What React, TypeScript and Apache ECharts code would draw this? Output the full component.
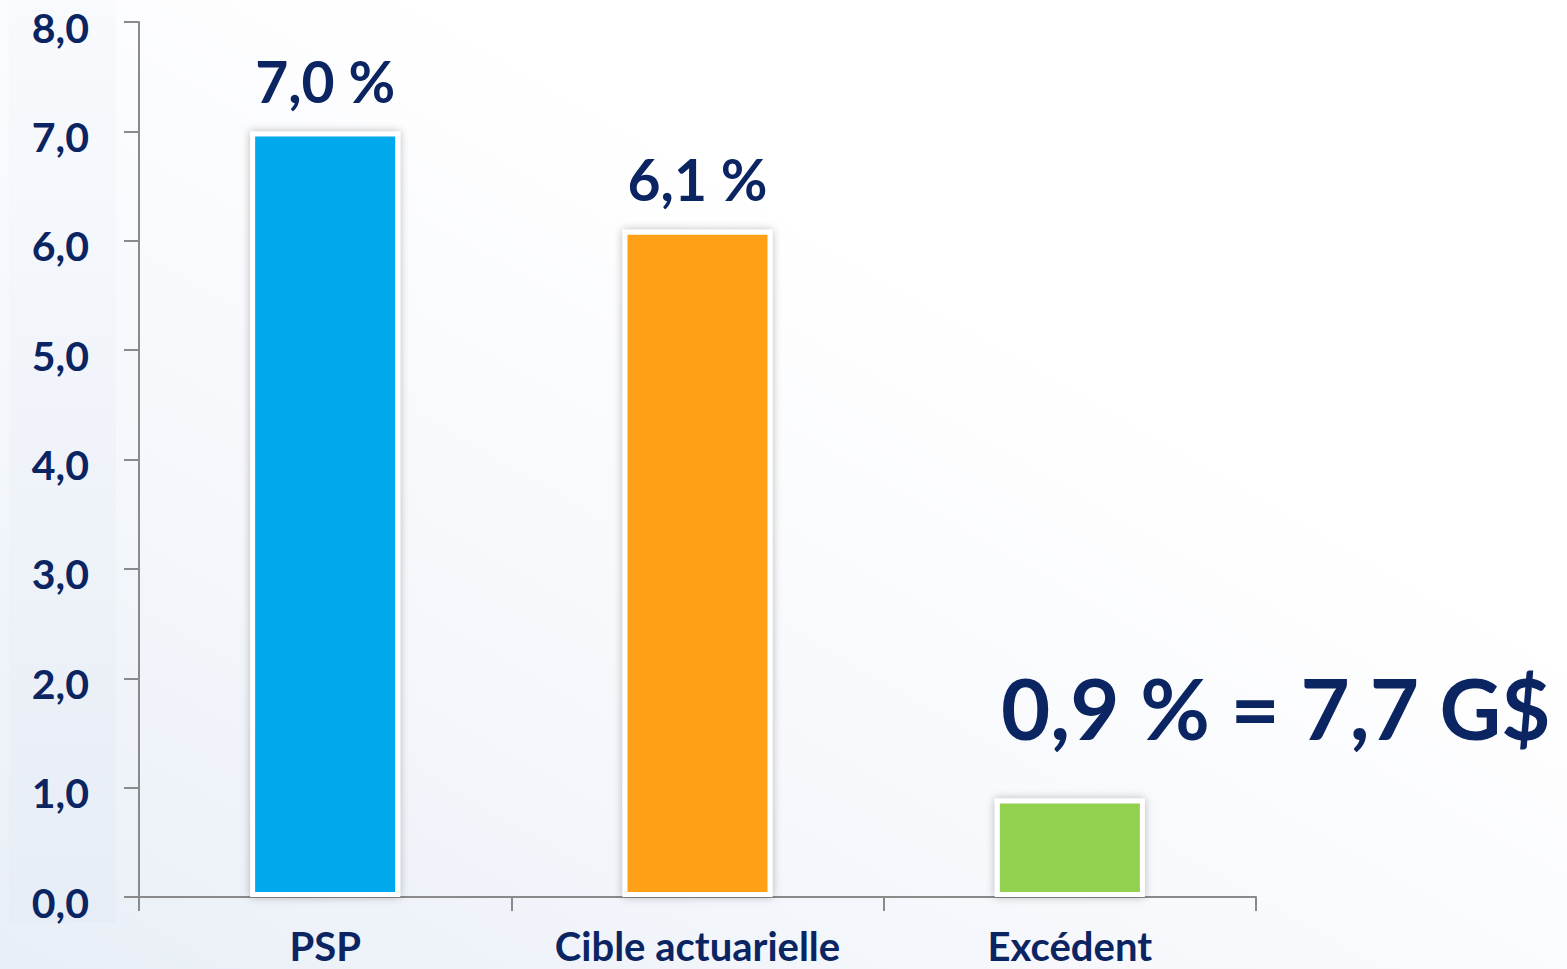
import React, { useEffect, useRef } from "react";
import * as echarts from "echarts";

const categories = ["PSP", "Cible actuarielle", "Excédent"];
const values = [7.0, 6.1, 0.9];
const barColors = ["#00a8ec", "#ffa015", "#92d050"];
const surplusText = "= 7,7 G$";
const yTicks = { min: 0, max: 8, interval: 1 };

const NAVY = "#0b2462";
const FONT = "Lato, 'Open Sans', sans-serif";
const WEIGHT = "bold";

const fmt = (v: number) => v.toFixed(1).replace(".", ",");

export default function App() {
  const ref = useRef<HTMLDivElement>(null);
  useEffect(() => {
    if (!ref.current) return;
    const chart = echarts.init(ref.current, undefined, { renderer: "svg" });
    chart.setOption({
      animation: false,
      backgroundColor: "transparent",
      graphic: [
        {
          type: "rect",
          left: 9,
          top: 0,
          shape: { width: 107, height: 923 },
          z: -10,
          style: {
            fill: new echarts.graphic.LinearGradient(0, 0, 0, 1, [
              { offset: 0, color: "#f8fafd" },
              { offset: 1, color: "#e7edf6" },
            ]),
          },
        },
      ],
      grid: {
        left: 139,
        right: 311,
        top: 22,
        bottom: 72,
        containLabel: false,
        outerBoundsMode: "none",
      },
      xAxis: {
        type: "category",
        data: categories,
        axisLine: { lineStyle: { color: "#8a8a8a", width: 2 } },
        axisTick: { show: true, length: 14, lineStyle: { color: "#8a8a8a", width: 2 } },
        axisLabel: {
          interval: 0,
          color: NAVY,
          fontFamily: FONT,
          fontWeight: WEIGHT,
          fontSize: 40,
          lineHeight: 36,
          margin: 31,
        },
      },
      yAxis: {
        type: "value",
        min: yTicks.min,
        max: yTicks.max,
        interval: yTicks.interval,
        splitLine: { show: false },
        axisLine: { show: true, lineStyle: { color: "#8a8a8a", width: 2 } },
        axisTick: { show: true, length: 15, lineStyle: { color: "#8a8a8a", width: 2 } },
        axisLabel: {
          color: NAVY,
          fontFamily: FONT,
          fontWeight: WEIGHT,
          fontSize: 41,
          lineHeight: 10,
          verticalAlign: "top",
          margin: 50,
          formatter: (v: number) => fmt(v),
        },
      },
      series: [
        {
          type: "bar",
          barWidth: "40.3%",
          data: values.map((v, i) => ({
            value: v,
            itemStyle: { color: barColors[i] },
            label:
              i === 2
                ? {
                    show: true,
                    position: "top",
                    formatter: (p: any) => `${fmt(p.value)} % ${surplusText}`,
                    fontSize: 85,
                    offset: [206, -27],
                  }
                : undefined,
          })),
          itemStyle: {
            borderColor: "#ffffff",
            borderWidth: 5,
            shadowBlur: 8,
            shadowColor: "rgba(0,0,0,0.28)",
          },
          label: {
            show: true,
            position: "top",
            distance: 22,
            color: NAVY,
            fontFamily: FONT,
            fontWeight: WEIGHT,
            fontSize: 57,
            formatter: (p: any) => `${fmt(p.value)} %`,
          },
        },
      ],
    });
    return () => chart.dispose();
  }, []);
  return (
    <div
      style={{
        position: "fixed",
        left: 0,
        top: 0,
        width: 1567,
        height: 969,
        background: "linear-gradient(30deg, #e9eff7 0%, #f6f8fc 35%, #ffffff 65%)",
      }}
    >
      <div ref={ref} style={{ width: 1567, height: 969 }} />
    </div>
  );
}
